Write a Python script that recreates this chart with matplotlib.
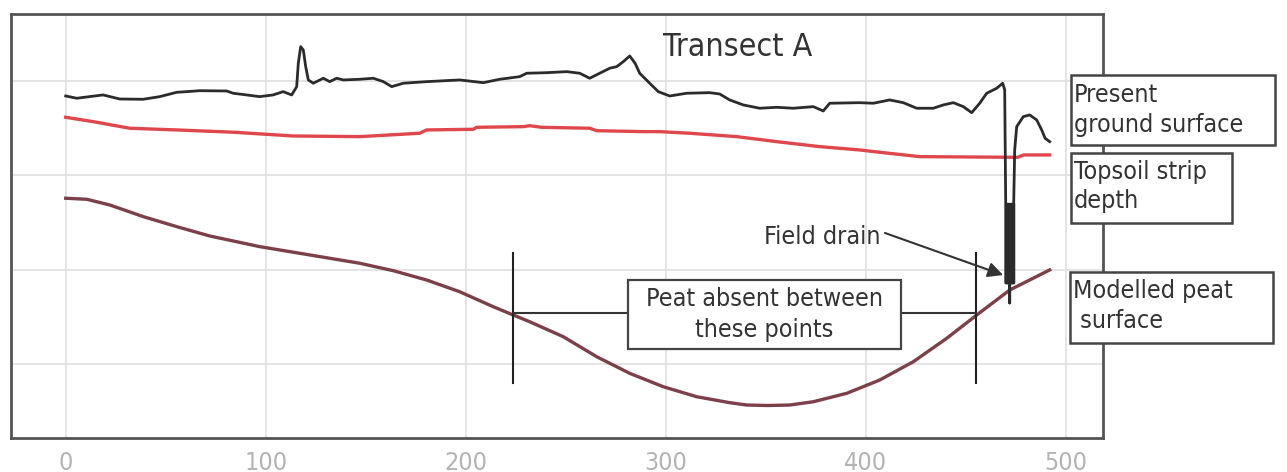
import matplotlib.pyplot as plt
from matplotlib.patches import Rectangle

# present ground surface (distance, level)
gx = [0, 5.5, 18.7, 27, 38.7, 47, 55.5, 60.5, 67, 80.5, 83.7, 90.5, 97, 103.7, 108.7, 113,
      115.5, 116.3, 117.5, 118.8, 120, 121.3, 123.8, 128.8, 132, 135.5, 138.8, 147,
      153.8, 158.8, 163, 168.8, 180.5, 197, 208.8, 217, 227, 230.5, 240.5, 250.5, 257, 262,
      267, 272, 275.5, 278.8, 282, 284.7, 287, 292, 296.3,
      302, 310.5, 322, 327, 332, 338.8, 347, 355.5, 363.8, 373.8, 378.8, 382, 397, 403.8,
      412, 418.8, 425.5, 433.8, 438.8, 443.8, 448.8, 453, 457, 460.5, 465.5, 468.5,
      469.5, 470, 470, 472, 472, 472, 474, 474, 474.5, 475.5, 478.8, 482, 485.5, 488, 489.7, 492]
gy = [3.841, 3.817, 3.852, 3.809, 3.806, 3.834, 3.880, 3.887, 3.897, 3.894, 3.870, 3.852,
      3.834, 3.852, 3.887, 3.852, 3.940, 4.188, 4.364, 4.329, 4.152, 4.011, 3.976, 4.029,
      3.993, 4.029, 4.011, 4.018,
      4.029, 3.993, 3.940, 3.976, 3.993, 4.011, 3.982, 4.018, 4.046, 4.082, 4.088, 4.099,
      4.082, 4.029, 4.082, 4.135, 4.152, 4.205, 4.265, 4.188, 4.082, 3.976, 3.887,
      3.841, 3.870, 3.876, 3.862, 3.799, 3.746, 3.711, 3.721, 3.711, 3.728, 3.682, 3.764,
      3.770, 3.764, 3.799, 3.770, 3.711, 3.711, 3.746, 3.770, 3.728, 3.664, 3.764, 3.870,
      3.923, 3.976,
      3.905, 2.707, 1.859, 1.859, 1.647, 1.859, 1.859, 2.707, 3.269, 3.516, 3.622, 3.640,
      3.587, 3.481, 3.393, 3.357]

# field drain pipe
drain_x = [470, 474]
drain_y = [1.859, 2.707]

# topsoil strip depth
tx = [0, 13.8, 32, 55.5, 83.7, 113.8, 147, 177, 180.5, 203.8, 205.5, 228.8, 232, 238, 262,
      265.5, 288.8, 297, 312, 335.5, 355.5, 377, 397, 408, 427, 476, 479, 492]
ty = [3.615, 3.569, 3.499, 3.481, 3.457, 3.417, 3.410, 3.446, 3.481, 3.488, 3.509, 3.516,
      3.526, 3.509, 3.499, 3.473, 3.463, 3.463, 3.446, 3.410, 3.357, 3.304, 3.269, 3.242,
      3.198, 3.191, 3.216, 3.216]

# modelled peat surface
px_ = [0, 10.5, 22, 38.8, 55.5, 72, 97, 122, 147, 163.8, 180.5, 197, 213.8, 223.8, 232,
       248.8, 265.5, 282, 298.8, 315.5, 332, 340.5, 351, 362, 373.8, 390.5, 407, 423.8,
       440.5, 455.5, 472, 492]
py_ = [2.757, 2.746, 2.686, 2.562, 2.456, 2.357, 2.244, 2.156, 2.068, 1.989, 1.890, 1.766,
       1.607, 1.519, 1.448, 1.289, 1.077, 0.901, 0.759, 0.653, 0.590, 0.565, 0.560, 0.565,
       0.600, 0.689, 0.830, 1.024, 1.272, 1.519, 1.784, 1.997]

# points where the peat is absent
absent_x = [223.5, 455.2]

W, H = 1287, 472
fig = plt.figure(figsize=(W / 100, H / 100), dpi=100)
ax = fig.add_axes([10.7 / W, 1 - 438 / H, 1091.9 / W, 424 / H])

font = dict(family='DejaVu Sans', stretch='condensed', color='#333333')

ax.plot(px_, py_, color='#7b4049', lw=2.4, zorder=3)
ax.plot(tx, ty, color='#e0474c', lw=2.4, zorder=3)
ax.plot(gx, gy, color='#2b2b2b', lw=2.0, zorder=4)
ax.fill_betweenx(drain_y, drain_x[0], drain_x[1], color='#2b2b2b', zorder=4)

for xv in absent_x:
    ax.plot([xv, xv], [0.795, 2.18], color='#222222', lw=1.5, zorder=5)
ax.plot([absent_x[0], 281], [1.544, 1.544], color='#333333', lw=1.5, zorder=5)
ax.plot([417.5, absent_x[1]], [1.544, 1.544], color='#333333', lw=1.5, zorder=5)
ax.add_patch(Rectangle((281, 1.156), 417.5 - 281, 1.89 - 1.156, facecolor='white',
                       edgecolor='#444444', lw=1.6, zorder=6))
ax.text(349.25, 1.615, 'Peat absent between', ha='center', va='baseline', fontsize=18, zorder=7, **font)
ax.text(349.25, 1.289, 'these points', ha='center', va='baseline', fontsize=18, zorder=7, **font)

ax.text(298.8, 4.265, 'Transect A', ha='left', va='baseline', fontsize=23, **font)

ax.annotate('', xy=(468.7, 1.943), xytext=(409.6, 2.389),
            arrowprops=dict(arrowstyle='-|>,head_length=0.9,head_width=0.45',
                            color='#333333', lw=1.5, shrinkA=0, shrinkB=0), zorder=7)
ax.text(407.2, 2.272, 'Field drain', ha='right', va='baseline', fontsize=18, **font)

ax.set_xlim(-27.5, 518.45)
ax.set_ylim(0.2155, 4.71)
ax.set_xticks([0, 100, 200, 300, 400, 500])
ax.set_yticks([1, 2, 3, 4])
ax.set_yticklabels([])
ax.grid(True, color='#e2e2e2', lw=1.3)
ax.set_axisbelow(True)
ax.tick_params(length=0, pad=9)
ax.tick_params(axis='x', labelsize=18, labelcolor='#b3b3b3')
for lab in ax.get_xticklabels():
    lab.set_fontstretch('condensed')
for s in ax.spines.values():
    s.set_color('#555555')
    s.set_linewidth(2)

# legend-style boxes on the right
boxes = [
    ((1070.7, 75, 1275, 145), ['Present', 'ground surface'], [101.7, 131.7]),
    ((1070.7, 153.3, 1231.7, 223.3), ['Topsoil strip', 'depth'], [179, 208]),
    ((1070, 272.3, 1273, 342.7), ['Modelled peat', ' surface'], [298, 328]),
]
for (x0, y0, x1, y1), lines, bases in boxes:
    fig.add_artist(Rectangle((x0 / W, 1 - y1 / H), (x1 - x0) / W, (y1 - y0) / H,
                             transform=fig.transFigure, facecolor='white',
                             edgecolor='#444444', lw=1.8, zorder=5))
    for t, b in zip(lines, bases):
        fig.text((x0 + 3) / W, 1 - b / H, t, ha='left', va='baseline', fontsize=18, zorder=6, **font)

plt.savefig('out.png', dpi=100)
